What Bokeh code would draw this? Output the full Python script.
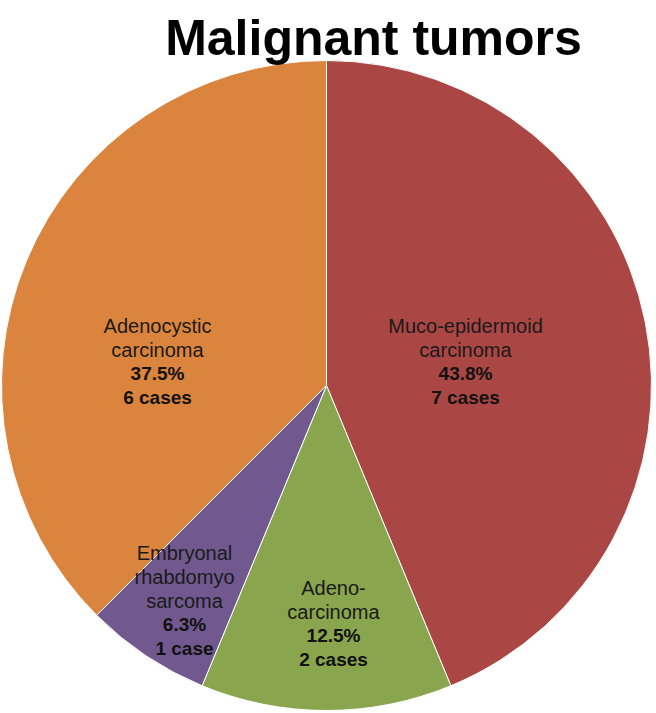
import math
from bokeh.plotting import figure
from bokeh.models import Range1d, ColumnDataSource
from bokeh.core.properties import value
from bokeh.embed import file_html
from bokeh.resources import INLINE

# ---- data ----
title_text = "Malignant tumors"
name_lines = [
    ["Muco-epidermoid", "carcinoma"],
    ["Adeno-", "carcinoma"],
    ["Embryonal", "rhabdomyo", "sarcoma"],
    ["Adenocystic", "carcinoma"],
]
cases = [7, 2, 1, 6]
colors = ["#AA4643", "#89A54E", "#71588F", "#DB843D"]

# ---- layout (pixels, image coords: x right, y down) ----
W, H = 656, 713
CX, CY, R = 326, 385, 325
label_offsets = [(139, 24), (7, -238), (-142, -215), (-169, 24)]  # block centre offset from pie centre (dy up)
LINE_H = 24
FONT = "Liberation Sans"

total = sum(cases)
fracs = [c / total for c in cases]
pcts = [math.floor(f * 1000 + 0.5) / 10 for f in fracs]
starts, ends = [], []
acc = 0.0
for f in fracs:
    starts.append(math.pi / 2 - acc * 2 * math.pi)
    acc += f
    ends.append(math.pi / 2 - acc * 2 * math.pi)

p = figure(width=W, height=H, output_backend="svg", toolbar_location=None,
           x_range=Range1d(0, W), y_range=Range1d(-H, 0),
           min_border=0)
p.axis.visible = False
p.grid.visible = False
p.outline_line_color = None
p.background_fill_color = "white"
p.border_fill_color = "white"

src = ColumnDataSource(dict(start=starts, end=ends, color=colors))
p.wedge(x=CX, y=-CY, radius=R, start_angle="start", end_angle="end",
        direction="clock", fill_color="color", line_color="white",
        line_width=1, source=src)

# labels
nx, ny, nt = [], [], []
bx, by, bt = [], [], []
for i in range(len(cases)):
    lines = name_lines[i]
    bold = [f"{pcts[i]:.1f}%", f"{cases[i]} case" + ("s" if cases[i] != 1 else "")]
    n = len(lines) + len(bold)
    ox, oy = label_offsets[i]
    cx = CX + ox
    cy = -CY + oy  # data y of block centre
    top = cy + (n - 1) * LINE_H / 2
    for j, t in enumerate(lines):
        nx.append(cx); ny.append(top - j * LINE_H); nt.append(t)
    for k, t in enumerate(bold):
        j = len(lines) + k
        bx.append(cx); by.append(top - j * LINE_H); bt.append(t)

p.text(x=nx, y=ny, text=nt, text_align="center", text_baseline="middle",
       text_font=value(FONT), text_font_size="20px", text_color="#1a1a1a")
p.text(x=bx, y=by, text=bt, text_align="center", text_baseline="middle",
       text_font=value(FONT), text_font_size="19px", text_font_style="bold",
       text_color="#111111")

# title
p.text(x=[373], y=[-37], text=[title_text], text_align="center",
       text_baseline="alphabetic", text_font=value(FONT),
       text_font_size="50px", text_font_style="bold", text_color="black")

open("out.html", "w").write(file_html(p, INLINE))
